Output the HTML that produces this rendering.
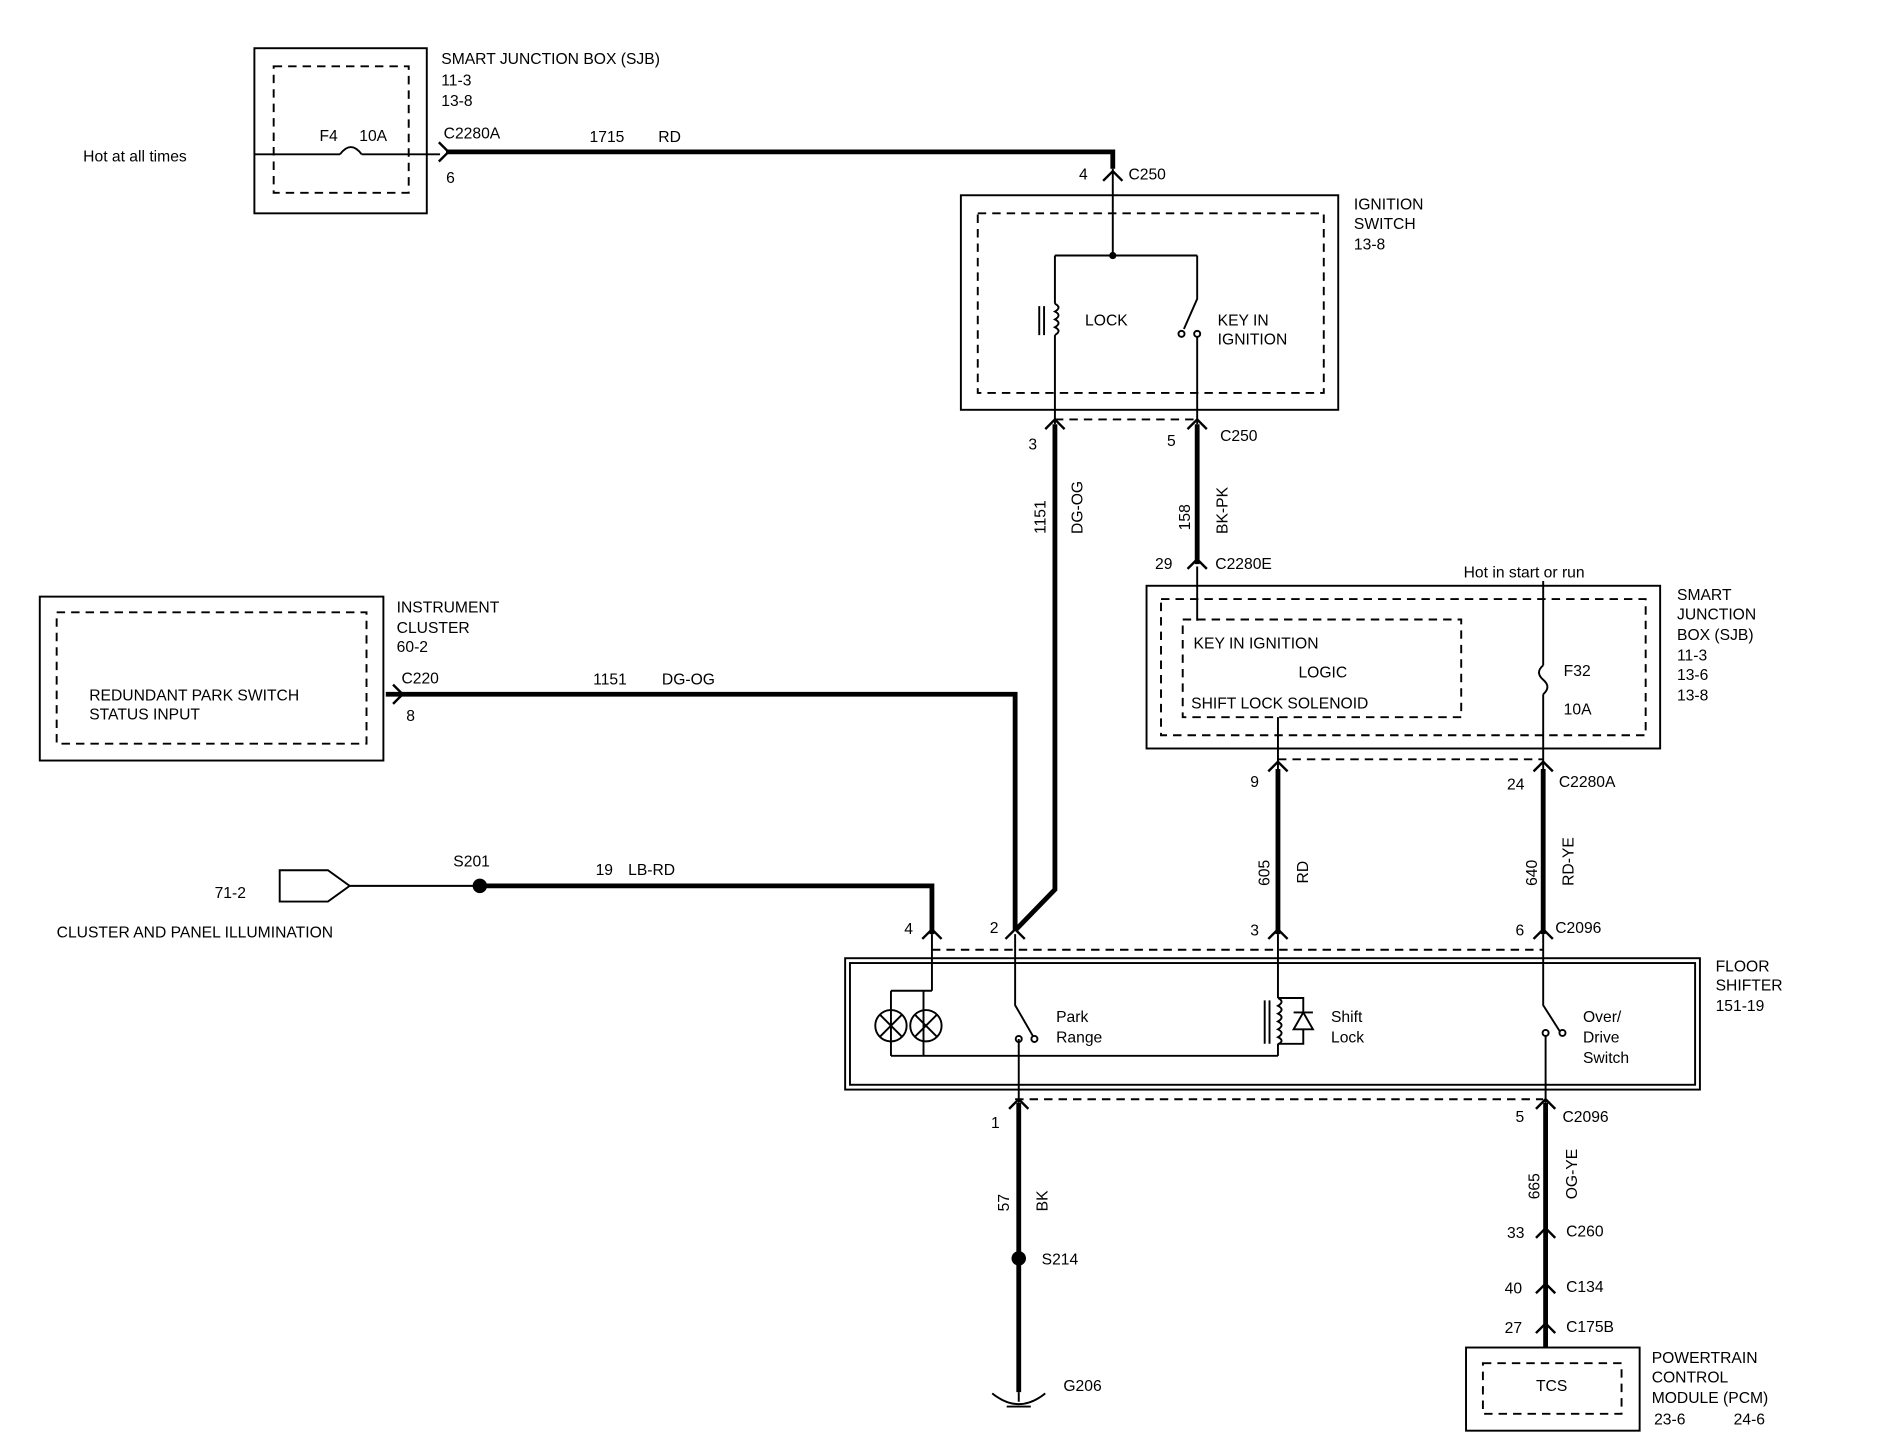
<!DOCTYPE html>
<html><head><meta charset="utf-8"><style>
html,body{margin:0;padding:0;background:#fff;}
svg{display:block}
text{font-family:"Liberation Sans",sans-serif;font-size:13px;fill:#000;}
</style></head><body>
<svg width="1888" height="1456" viewBox="0 0 1566 1208" preserveAspectRatio="none" xmlns="http://www.w3.org/2000/svg">
<defs>
<g id="chv"><path d="M-8,6 L0,-2 L8,6" fill="none" stroke="#000" stroke-width="2"/></g>
</defs>
<g fill="none" stroke="#000" stroke-width="1.6">
<rect x="211" y="40" width="143" height="137"/>
<rect x="227" y="55" width="112" height="105" stroke-dasharray="7,5"/>
<path d="M211,128 H282 M300,128 H365"/>
<path d="M282,128 Q291,116 300,128"/>
<rect x="797" y="162" width="313" height="178"/>
<rect x="811" y="177" width="287" height="149" stroke-dasharray="7,5"/>
<path d="M923,140 V212 M875,212 H993 M875,212 V252 M875,278 V352"/>
<path d="M875,252 q6,3 0,6.5 q6,3 0,6.5 q6,3 0,6.5 q6,3 0,6.5"/>
<path d="M862,254 V278 M866,254 V278"/>
<path d="M993,212 V248 L982,273 M993,280 V352"/>
<circle cx="980" cy="277" r="2.5"/><circle cx="993" cy="277" r="2.5"/>
<path d="M875,348 H993" stroke-dasharray="7,5"/>
<rect x="951" y="486" width="426" height="135"/>
<rect x="963" y="497" width="402" height="113" stroke-dasharray="7,5"/>
<rect x="981" y="514" width="231" height="81" stroke-dasharray="7,5"/>
<path d="M993,470 V515 M1280,482 V552 M1280,576 V638 M1060,595 V638"/>
<path d="M1280,552 q-7,6 0,12 q7,6 0,12"/>
<path d="M1060,630 H1280" stroke-dasharray="7,5"/>
<rect x="33" y="495" width="285" height="136"/>
<rect x="47" y="508" width="257" height="109" stroke-dasharray="7,5"/>
<path d="M232,722 H272 L290,735 L272,748 H232 Z"/>
<path d="M290,735 H398"/>
<rect x="701" y="795" width="709" height="109"/>
<rect x="705" y="799" width="701" height="101"/>
<path d="M773,788 H1280" stroke-dasharray="7,5"/>
<path d="M842,912 H1280" stroke-dasharray="7,5"/>
<path d="M773,775 V822 M739,822 H773 M739,822 V876 M766,822 V876 M739,876 H1060"/>
<circle cx="739" cy="851" r="13"/><circle cx="768" cy="851" r="13"/>
<path d="M730,842 l18,18 M748,842 l-18,18 M759,842 l18,18 M777,842 l-18,18"/>
<path d="M842,775 V834 L857,860 M845,862 V915"/>
<circle cx="845" cy="862" r="2.5"/><circle cx="858" cy="862" r="2.5"/>
<path d="M1060,775 V828 M1060,828 H1081 V840 M1081,854 V866 H1060 M1060,866 V876"/>
<path d="M1060,828 q6,3 0,6.5 q6,3 0,6.5 q6,3 0,6.5 q6,3 0,6.5 q6,3 0,6.5 q6,3 0,6"/>
<path d="M1049,830 V866 M1053,830 V866"/>
<path d="M1073,854 H1089 L1081,840 Z M1073,840 H1089"/>
<path d="M1280,775 V834 L1294,856 M1282,859 V915"/>
<circle cx="1282" cy="857" r="2.5"/><circle cx="1296" cy="857" r="2.5"/>
<rect x="1216" y="1118" width="144" height="69"/>
<rect x="1230" y="1131" width="115" height="42" stroke-dasharray="7,5"/>
<path d="M845,1155 V1163 M823,1156 Q845,1174 867,1156 M835,1167 H855"/>
</g>
<g fill="none" stroke="#000" stroke-width="4">
<path d="M370,126 H923 V140"/>
<path d="M875,352 V738 L842,772"/>
<path d="M993,352 V468"/>
<path d="M1060,638 V775 M1280,638 V775"/>
<path d="M320,576 H842 V772"/>
<path d="M398,735 H773 V775"/>
<path d="M845,915 V1155"/>
<path d="M1282,915 V1118"/>
</g>
<circle cx="923" cy="212" r="3"/>
<circle cx="398" cy="735" r="6"/>
<circle cx="845" cy="1044" r="6"/>
<use href="#chv" x="370" y="126" transform="rotate(90 370 126)"/>
<use href="#chv" x="923" y="144"/>
<use href="#chv" x="875" y="350"/>
<use href="#chv" x="993" y="350"/>
<use href="#chv" x="993" y="466"/>
<use href="#chv" x="1060" y="634"/>
<use href="#chv" x="1280" y="634"/>
<use href="#chv" x="1060" y="773"/>
<use href="#chv" x="1280" y="773"/>
<use href="#chv" x="773" y="773"/>
<use href="#chv" x="842" y="773"/>
<use href="#chv" x="332" y="576" transform="rotate(90 332 576)"/>
<use href="#chv" x="845" y="914"/>
<use href="#chv" x="1282" y="914"/>
<use href="#chv" x="1282" y="1021"/>
<use href="#chv" x="1282" y="1067"/>
<use href="#chv" x="1282" y="1100"/>
<text x="366" y="53">SMART  JUNCTION   BOX (SJB)</text>
<text x="366" y="71">11-3</text><text x="366" y="88">13-8</text>
<text x="69" y="134">Hot at all times</text>
<text x="265" y="117">F4</text><text x="298" y="117">10A</text>
<text x="368" y="115">C2280A</text><text x="370" y="152">6</text>
<text x="489" y="118">1715</text><text x="546" y="118">RD</text>
<text x="895" y="149">4</text><text x="936" y="149">C250</text>
<text x="1123" y="174">IGNITION</text><text x="1123" y="190">SWITCH</text><text x="1123" y="207">13-8</text>
<text x="900" y="270">LOCK</text>
<text x="1010" y="270">KEY IN</text><text x="1010" y="286">IGNITION</text>
<text x="853" y="373">3</text><text x="968" y="370">5</text><text x="1012" y="366">C250</text>
<text transform="translate(867,443) rotate(-90)">1151</text>
<text transform="translate(898,443) rotate(-90)">DG-OG</text>
<text transform="translate(987,440) rotate(-90)">158</text>
<text transform="translate(1018,443) rotate(-90)">BK-PK</text>
<text x="958" y="472">29</text><text x="1008" y="472">C2280E</text>
<text x="1214" y="479">Hot in start or run</text>
<text x="990" y="538">KEY IN IGNITION</text>
<text x="1077" y="562">LOGIC</text>
<text x="988" y="588">SHIFT LOCK SOLENOID</text>
<text x="1297" y="561">F32</text><text x="1297" y="593">10A</text>
<text x="1391" y="498">SMART</text><text x="1391" y="514">JUNCTION</text><text x="1391" y="531">BOX (SJB)</text>
<text x="1391" y="548">11-3</text><text x="1391" y="564">13-6</text><text x="1391" y="581">13-8</text>
<text x="1037" y="653">9</text><text x="1250" y="655">24</text><text x="1293" y="653">C2280A</text>
<text transform="translate(1053,735) rotate(-90)">605</text>
<text transform="translate(1085,733) rotate(-90)">RD</text>
<text transform="translate(1275,735) rotate(-90)">640</text>
<text transform="translate(1305,735) rotate(-90)">RD-YE</text>
<text x="1037" y="776">3</text><text x="1257" y="776">6</text><text x="1290" y="774">C2096</text>
<text x="329" y="508">INSTRUMENT</text><text x="329" y="525">CLUSTER</text><text x="329" y="541">60-2</text>
<text x="74" y="581">REDUNDANT PARK SWITCH</text><text x="74" y="597">STATUS INPUT</text>
<text x="333" y="567">C220</text><text x="337" y="598">8</text>
<text x="492" y="568">1151</text><text x="549" y="568">DG-OG</text>
<text x="178" y="745">71-2</text>
<text x="47" y="778">CLUSTER  AND PANEL ILLUMINATION</text>
<text x="376" y="719">S201</text>
<text x="494" y="726">19</text><text x="521" y="726">LB-RD</text>
<text x="750" y="775">4</text><text x="821" y="774">2</text>
<text x="1423" y="806">FLOOR</text><text x="1423" y="822">SHIFTER</text><text x="1423" y="839">151-19</text>
<text x="876" y="848">Park</text><text x="876" y="865">Range</text>
<text x="1104" y="848">Shift</text><text x="1104" y="865">Lock</text>
<text x="1313" y="848">Over/</text><text x="1313" y="865">Drive</text><text x="1313" y="882">Switch</text>
<text x="822" y="936">1</text>
<text transform="translate(837,1005) rotate(-90)">57</text>
<text transform="translate(869,1005) rotate(-90)">BK</text>
<text x="864" y="1049">S214</text>
<text x="882" y="1154">G206</text>
<text x="1257" y="931">5</text><text x="1296" y="931">C2096</text>
<text transform="translate(1277,995) rotate(-90)">665</text>
<text transform="translate(1308,995) rotate(-90)">OG-YE</text>
<text x="1250" y="1027">33</text><text x="1299" y="1026">C260</text>
<text x="1248" y="1073">40</text><text x="1299" y="1072">C134</text>
<text x="1248" y="1106">27</text><text x="1299" y="1105">C175B</text>
<text x="1274" y="1154">TCS</text>
<text x="1370" y="1131">POWERTRAIN</text><text x="1370" y="1147">CONTROL</text><text x="1370" y="1164">MODULE (PCM)</text>
<text x="1372" y="1182">23-6</text><text x="1438" y="1182">24-6</text>
</svg>
</body></html>
